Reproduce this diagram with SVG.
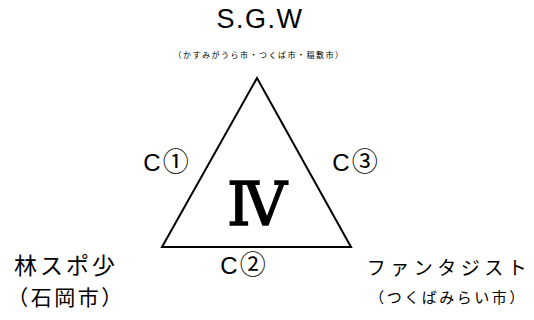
<svg xmlns="http://www.w3.org/2000/svg" width="534" height="320" viewBox="0 0 534 320">
<style>
text{font-family:"Noto Sans CJK JP","Liberation Sans",sans-serif;fill:#000;text-anchor:middle}
.lab{font-family:"Liberation Sans","Noto Sans CJK JP",sans-serif;font-size:24px}
.circ{font-family:"Noto Sans CJK JP",sans-serif;font-size:26px}
.edge{fill:none;stroke:#000;stroke-width:2}
</style>
<rect width="534" height="320" fill="#fff"/>
<g id="connectors">
<polygon class="edge" points="257,78 162,247 351,247"/>
</g>
<g id="node-sgw">
<text x="260" y="28" class="lab" style="font-size:27px;letter-spacing:1.5px">S.G.W</text>
<text x="259" y="58" font-size="8" style="letter-spacing:1.5px">（かすみがうら市・つくば市・稲敷市）</text>
</g>
<g id="node-hayashi">
<text x="66" y="274" style="font-size:23px;letter-spacing:3px">林スポ少</text>
<text x="66" y="305" style="font-size:21px;letter-spacing:2.5px">（石岡市）</text>
</g>
<g id="node-fantasista">
<text x="449" y="275" style="font-size:19px;letter-spacing:4.5px">ファンタジスト</text>
<text x="448" y="303" style="font-size:15px;letter-spacing:2.5px">（つくばみらい市）</text>
</g>
<g id="labels">
<text x="166" y="171" class="lab">C<tspan class="circ" dx="2">①</tspan></text>
<text x="355" y="171" class="lab">C<tspan class="circ" dx="2">③</tspan></text>
<text x="243" y="274" class="lab">C<tspan class="circ" dx="2">②</tspan></text>
<text x="257" y="225" style="font-family:'DejaVu Serif',serif;font-size:60px;stroke:#000;stroke-width:1.5px">Ⅳ</text>
</g>
</svg>
